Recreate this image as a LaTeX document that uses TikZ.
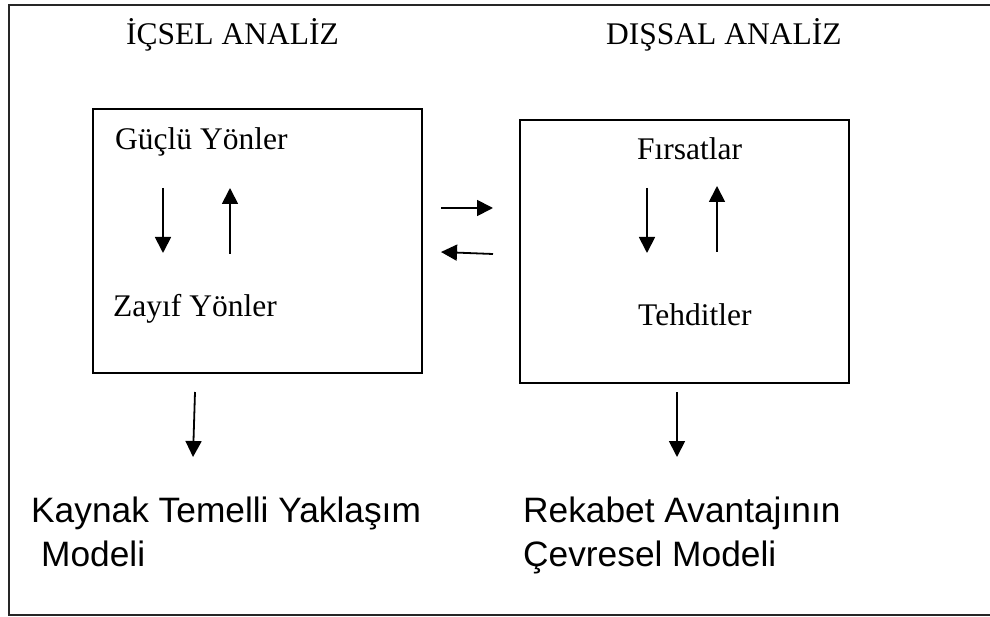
\documentclass[tikz,border=0pt]{standalone}
\usepackage{fontspec}
\setmainfont{Liberation Serif}
\newfontfamily\arialfont{Liberation Sans}
\usetikzlibrary{arrows.meta}
\tikzset{
  kutu/.style={draw, line width=1.8pt, inner sep=0pt},
  yazi/.style={inner sep=0pt, anchor=base west, font=\fontsize{31.5}{36}\selectfont},
  model/.style={inner sep=0pt, anchor=base west, align=left, font=\arialfont\fontsize{35.3}{44}\selectfont},
  ok/.style={line width=1.8pt, -{Triangle[length=16pt,width=16pt]}}
}
\begin{document}
\begin{tikzpicture}[x=1pt,y=-1pt]
        \useasboundingbox (0,0) rectangle (990,617);
        % Outer frame
        \draw[line width=1.8pt, black!85] (990,5) -- (9,5) -- (9,615) -- (990,615);

        % Headings
        \node[yazi] (icsel) at (126,45) {İÇSEL ANALİZ};
        \node[yazi] (dissal) at (606,45) {DIŞSAL ANALİZ};

        % Boxes
        \node[kutu, minimum width=329pt, minimum height=264pt] (icbox) at (257.5,241) {};
        \node[kutu, minimum width=329pt, minimum height=263pt] (disbox) at (684.5,251.5) {};

        % Box texts
        \node[yazi] (guclu) at (115,150) {Güçlü Yönler};
        \node[yazi] (zayif) at (113,317) {Zayıf Yönler};
        \node[yazi] (firsat) at (637,160) {Fırsatlar};
        \node[yazi] (tehdit) at (638,326) {Tehditler};

        % Arrow ends
        \coordinate (a1) at (163,188);  \coordinate (a2) at (163,253);
        \coordinate (b1) at (230,254);  \coordinate (b2) at (230,188);
        \coordinate (c1) at (647,188);  \coordinate (c2) at (647,253);
        \coordinate (d1) at (717,252);  \coordinate (d2) at (717,186);
        \coordinate (e1) at (441,208);  \coordinate (e2) at (493,208);
        \coordinate (f1) at (493,254);  \coordinate (f2) at (441,252);
        \coordinate (g1) at (195,392);  \coordinate (g2) at (193,457);
        \coordinate (h1) at (677,392);  \coordinate (h2) at (677,457);

        % Arrows
        \draw[ok] (a1) -- (a2);
        \draw[ok] (b1) -- (b2);
        \draw[ok] (c1) -- (c2);
        \draw[ok] (d1) -- (d2);
        \draw[ok] (e1) -- (e2);
        \draw[ok] (f1) -- (f2);
        \draw[ok] (g1) -- (g2);
        \draw[ok] (h1) -- (h2);

        % Models (base = last line)
        \node[model] (kaynak) at (31,566) {Kaynak Temelli Yaklaşım\\\hspace*{10pt}Modeli};
        \node[model] (rekabet) at (523,566) {Rekabet Avantajının\\Çevresel Modeli};
\end{tikzpicture}
\end{document}
